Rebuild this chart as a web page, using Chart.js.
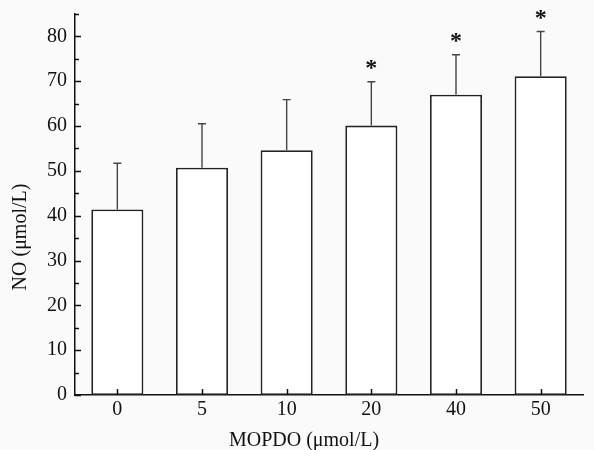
<!DOCTYPE html>
<html lang="en">
<head>
    <meta charset="UTF-8">
    <title>NO vs MOPDO</title>
    <style>
        html, body { margin: 0; padding: 0; background: #fafafa; }
        #wrap { width: 594px; height: 450px; }
    </style>
</head>
<body>
    <div id="wrap"><canvas id="noChart" width="594" height="450"></canvas></div>

    <script src="https://cdn.jsdelivr.net/npm/chart.js"></script>
    <script>
        // Dados
        const categories = ['0', '5', '10', '20', '40', '50'];
        const noMean = [41.4, 50.7, 54.6, 60.1, 67.0, 71.1];
        const noSD = [10.3, 9.8, 11.3, 9.8, 8.9, 10.0];
        const significant = [false, false, false, true, true, true];
        const yTicks = [0, 10, 20, 30, 40, 50, 60, 70, 80];

        const serif = "'Liberation Serif', 'Times New Roman', serif";
        const ink = '#111111';

        // Barras de erro, asteriscos, ticks internos e títulos dos eixos
        const extras = {
            id: 'extras',
            afterDatasetsDraw(chart) {
                const ctx = chart.ctx;
                const x = chart.scales.x, y = chart.scales.y;
                const area = chart.chartArea;
                ctx.save();

                // barras de erro (só para cima)
                ctx.strokeStyle = '#454545';
                ctx.lineWidth = 1.4;
                noMean.forEach((m, i) => {
                    const cx = x.getPixelForValue(i);
                    const yTop = y.getPixelForValue(m);
                    const yErr = y.getPixelForValue(m + noSD[i]);
                    ctx.beginPath();
                    ctx.moveTo(cx, yTop);
                    ctx.lineTo(cx, yErr);
                    ctx.moveTo(cx - 4, yErr);
                    ctx.lineTo(cx + 4, yErr);
                    ctx.stroke();
                    if (significant[i]) {
                        ctx.fillStyle = ink;
                        ctx.font = 'bold 24px ' + serif;
                        ctx.textAlign = 'center';
                        ctx.textBaseline = 'middle';
                        ctx.fillText('*', cx, yErr - 13);
                    }
                });

                // ticks internos do eixo y
                ctx.strokeStyle = ink;
                ctx.lineWidth = 1.5;
                for (let v = 0; v <= y.max; v += 5) {
                    const py = Math.round(y.getPixelForValue(v)) + 0.5;
                    const len = v % 10 === 0 ? 6 : 4;
                    ctx.beginPath();
                    ctx.moveTo(area.left, py);
                    ctx.lineTo(area.left + len, py);
                    ctx.stroke();
                }
                // ticks internos do eixo x
                categories.forEach((c, i) => {
                    const px = Math.round(x.getPixelForValue(i)) + 0.5;
                    ctx.beginPath();
                    ctx.moveTo(px, area.bottom);
                    ctx.lineTo(px, area.bottom - 6);
                    ctx.stroke();
                });

                // títulos
                ctx.fillStyle = ink;
                ctx.font = '20px ' + serif;
                ctx.textAlign = 'center';
                ctx.textBaseline = 'middle';
                ctx.fillText('MOPDO (\u03bcmol/L)', 304, 441);
                ctx.translate(21, 237);
                ctx.rotate(-Math.PI / 2);
                ctx.fillText('NO (\u03bcmol/L)', 0, 0);
                ctx.restore();
            }
        };

        const ctx = document.getElementById('noChart').getContext('2d');
        const noChart = new Chart(ctx, {
            type: 'bar',
            data: {
                labels: categories,
                datasets: [{
                    data: noMean,
                    backgroundColor: '#ffffff',
                    borderColor: '#222222',
                    borderWidth: 1.8,
                    borderSkipped: false,
                    categoryPercentage: 1.0,
                    barPercentage: 0.615
                }]
            },
            options: {
                responsive: false,
                animation: false,
                layout: { padding: { top: 14, right: 11, left: 0, bottom: 0 } },
                plugins: {
                    legend: { display: false },
                    tooltip: { enabled: false }
                },
                scales: {
                    x: {
                        grid: { display: false, drawTicks: false },
                        border: { display: true, color: ink, width: 1.5 },
                        ticks: {
                            color: ink,
                            font: { family: serif, size: 20 },
                            padding: 3,
                            maxRotation: 0
                        },
                        afterFit: (s) => {
                            s.height = 55;
                            s.paddingLeft = 0; s.paddingRight = 0;
                        }
                    },
                    y: {
                        min: 0,
                        max: 85,
                        grid: { display: false, drawTicks: false },
                        border: { display: true, color: ink, width: 1.5 },
                        ticks: {
                            stepSize: 5,
                            color: ink,
                            font: { family: serif, size: 20 },
                            padding: 8,
                            callback: (v) => yTicks.includes(v) ? String(v) : ''
                        },
                        afterFit: (s) => {
                            s.width = 75;
                            s.paddingTop = 0; s.paddingBottom = 0;
                        }
                    }
                }
            },
            plugins: [extras]
        });
    </script>
</body>
</html>
